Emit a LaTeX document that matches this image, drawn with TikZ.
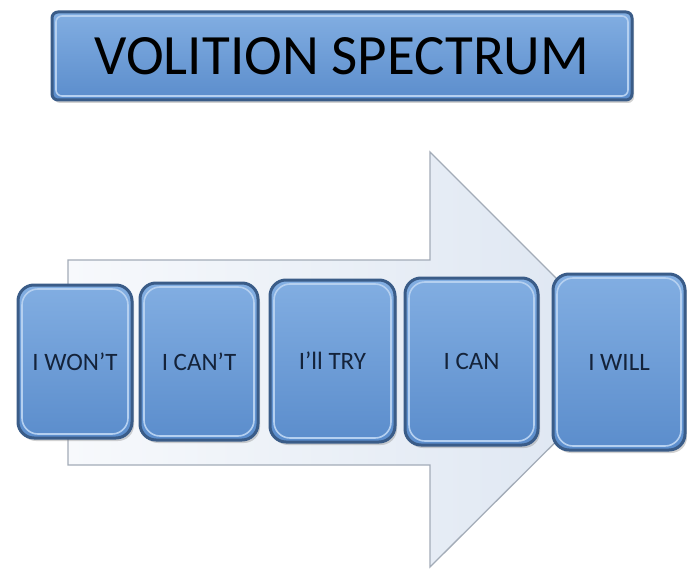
\documentclass[tikz,border=0pt]{standalone}
\usepackage{fontspec}
\setmainfont{Carlito}
\usetikzlibrary{shadows,calc}

\definecolor{boxtop}{HTML}{82AEE2}
\definecolor{boxbot}{HTML}{5B8DCC}
\definecolor{boxedge}{HTML}{3A5C88}
\definecolor{boxlight}{HTML}{B5D0F0}
\definecolor{txt}{HTML}{14233A}
\definecolor{arrowedge}{HTML}{A3ACB8}
\definecolor{arrowleft}{HTML}{F7F9FC}
\definecolor{arrowright}{HTML}{DCE5F1}

\tikzset{
  bevel/.style={
    draw=boxedge, line width=3,
    top color=boxtop, bottom color=boxbot,
    drop shadow={shadow xshift=2pt, shadow yshift=-3pt, opacity=0.35},
    path picture={
      \draw[boxlight, line width=1.6, rounded corners=#1]
        ($(path picture bounding box.south west)+(4,-4)$) rectangle
        ($(path picture bounding box.north east)+(-4,4)$);
    },
    rounded corners=#1, inner sep=0pt
  },
  titlebox/.style={bevel=6, text=black,
    font=\fontsize{57}{64}\selectfont},
  stagebox/.style={bevel=16, text=txt,
    font=\fontsize{25}{30}\selectfont},
  bigarrow/.style={draw=arrowedge, line width=1.3,
    left color=arrowleft, right color=arrowright}
}

\begin{document}
\begin{tikzpicture}[x=1pt, y=-1pt]
  \useasboundingbox (0,0) rectangle (687,569);
  \fill[white] (0,0) rectangle (687,569);

  % heading
  \node[titlebox, minimum width=580, minimum height=88] (title) at (342,56)
    {VOLITION SPECTRUM};

  % large background arrow
  \draw[bigarrow] (68,260) -- (430,260) -- (430,152) -- (638,360)
    -- (430,567) -- (430,465) -- (68,465) -- cycle;

  % stages along the arrow
  \node[stagebox, minimum width=114, minimum height=153] (wont) at (75,361.5) {I WON'T};
  \node[stagebox, minimum width=118, minimum height=157] (cant) at (199,361.5) {I CAN'T};
  \node[stagebox, minimum width=125, minimum height=162] (try)  at (332.5,361) {I'll TRY};
  \node[stagebox, minimum width=133, minimum height=167] (can)  at (471.5,361.5) {I CAN};
  \node[stagebox, minimum width=132, minimum height=176] (will) at (619,362) {I WILL};
\end{tikzpicture}
\end{document}
